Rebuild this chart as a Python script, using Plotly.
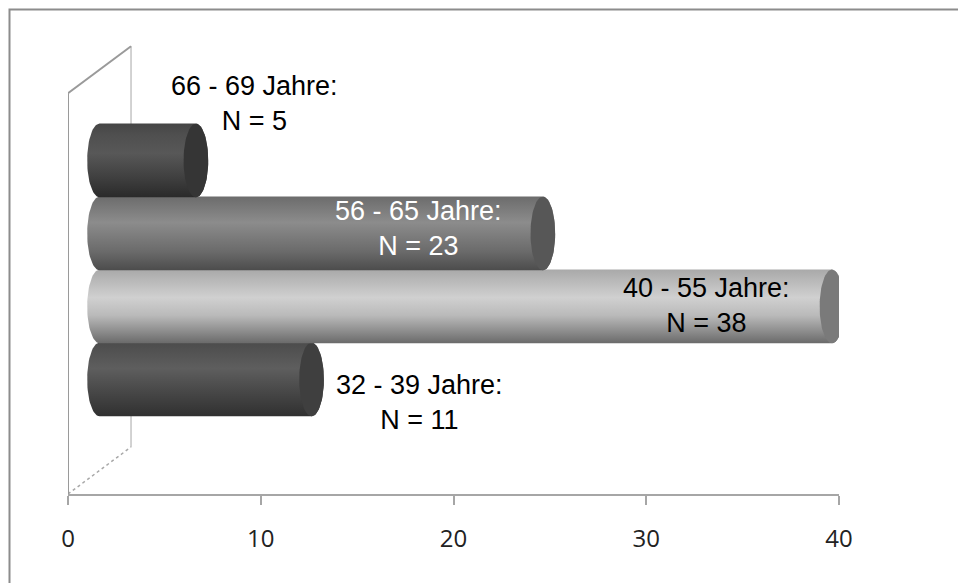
import numpy as np
import plotly.graph_objects as go

# ---------------- data ----------------
categories = ["32 - 39 Jahre", "40 - 55 Jahre", "56 - 65 Jahre", "66 - 69 Jahre"]
counts = [11, 38, 23, 5]
tick_values = [0, 10, 20, 30, 40]

# ---------------- style / geometry ----------------
W, H = 958, 583
ML, MR, MT, MB = 68, 119, 0, 89
X_MAX = 40
Y_MAX = (H - MT - MB) / 73.0     # one category = 73 px
DEPTH_X, DEPTH_Y = 3.27, 0.644   # 3D depth offset (axis units)
HALF_X, HALF_Y = DEPTH_X / 2, DEPTH_Y / 2
BAR_BASE = 1.247                 # front-plane centre of first category
BAR_RY = 0.505                   # half bar height
RX = 0.64                        # ellipse radius of cylinder ends
WALL_TOP = 5.49

body_scales = [
    [[0, "#303030"], [0.3, "#454545"], [0.65, "#5e5e5e"], [1, "#4c4c4c"]],
    [[0, "#6a6a6a"], [0.15, "#8a8a8a"], [0.38, "#bababa"], [0.62, "#d0d0d0"], [1, "#a9a9a9"]],
    [[0, "#4c4c4c"], [0.25, "#6a6a6a"], [0.65, "#8c8c8c"], [1, "#6c6c6c"]],
    [[0, "#2a2a2a"], [0.25, "#3e3e3e"], [0.6, "#585858"], [0.85, "#4f4f4f"], [1, "#454545"]],
]
cap_colors = ["#3f3f3f", "#7a7a7a", "#575757", "#353535"]
label_colors = ["#000000", "#000000", "#ffffff", "#000000"]
# label placement: (x offset from value, y offset from cylinder centre)
label_offsets = [(7.26, -HALF_Y), (-4.85, 0.013), (-4.84, 0.068), (4.70, 0.78)]

fig = go.Figure()

# ---- 3D walls ----
wall = dict(mode="lines", hoverinfo="skip", showlegend=False, cliponaxis=False)
fig.add_trace(go.Scatter(x=[DEPTH_X, DEPTH_X], y=[DEPTH_Y, WALL_TOP + DEPTH_Y],
                         line=dict(color="#c4c4c4", width=1.5), **wall))
fig.add_trace(go.Scatter(x=[0, DEPTH_X], y=[0, DEPTH_Y],
                         line=dict(color="#a8a8a8", width=1.5, dash="dot"), **wall))
fig.add_trace(go.Scatter(x=[0, DEPTH_X], y=[WALL_TOP, WALL_TOP + DEPTH_Y],
                         line=dict(color="#9a9a9a", width=2), **wall))
fig.add_trace(go.Scatter(x=[0, 0], y=[0, WALL_TOP],
                         line=dict(color="#9a9a9a", width=2), **wall))

# ---- cylinders ----
t_left = np.linspace(np.pi / 2, 3 * np.pi / 2, 40)
t_right = np.linspace(-np.pi / 2, np.pi / 2, 40)
t_full = np.linspace(0, 2 * np.pi, 80)

for i, (cat, n) in enumerate(zip(categories, counts)):
    yc = BAR_BASE + i + HALF_Y
    xl = 0 + HALF_X
    xr = n + HALF_X
    bx = np.concatenate([xl + RX * np.cos(t_left), xr + RX * np.cos(t_right), [xl]])
    by = np.concatenate([yc + BAR_RY * np.sin(t_left), yc + BAR_RY * np.sin(t_right), [yc + BAR_RY]])
    fig.add_trace(go.Scatter(
        x=bx, y=by, mode="lines", fill="toself",
        line=dict(width=0, color="rgba(0,0,0,0)"),
        fillgradient=dict(type="vertical", colorscale=body_scales[i]),
        hoverinfo="skip", showlegend=False))
    fig.add_trace(go.Scatter(
        x=xr + RX * np.cos(t_full), y=yc + BAR_RY * np.sin(t_full),
        mode="lines", fill="toself", fillcolor=cap_colors[i],
        line=dict(width=0, color="rgba(0,0,0,0)"),
        hoverinfo="skip", showlegend=False))
    dx, dy = label_offsets[i]
    fig.add_annotation(
        x=n + dx, y=yc + dy, text=f"{cat}:<br>N = {n}", showarrow=False,
        font=dict(family="Liberation Sans", size=27, color=label_colors[i]),
        xanchor="center", yanchor="middle", align="center")

# ---- outer border ----
def px_to_paper_x(px):
    return (px - ML) / (W - ML - MR)

def px_to_paper_y(py):
    return (H - MB - py) / (H - MT - MB)

fig.add_shape(type="rect", xref="paper", yref="paper",
              x0=px_to_paper_x(9.5), x1=px_to_paper_x(970),
              y0=px_to_paper_y(595), y1=px_to_paper_y(9.5),
              line=dict(color="#8c8c8c", width=2), fillcolor="rgba(0,0,0,0)")

fig.update_layout(
    width=W, height=H,
    margin=dict(l=ML, r=MR, t=MT, b=MB),
    paper_bgcolor="white", plot_bgcolor="white",
    showlegend=False,
    xaxis=dict(range=[0, X_MAX], tickvals=tick_values, showgrid=False, zeroline=False,
               showline=True, linecolor="#a6a6a6", linewidth=2,
               ticks="outside", ticklen=9, tickwidth=2, tickcolor="#a6a6a6",
               ticklabelstandoff=13,
               tickfont=dict(family="Open Sans", size=24, color="#222222")),
    yaxis=dict(range=[0, Y_MAX], visible=False, showgrid=False, zeroline=False),
)

fig.write_html("out.html")
